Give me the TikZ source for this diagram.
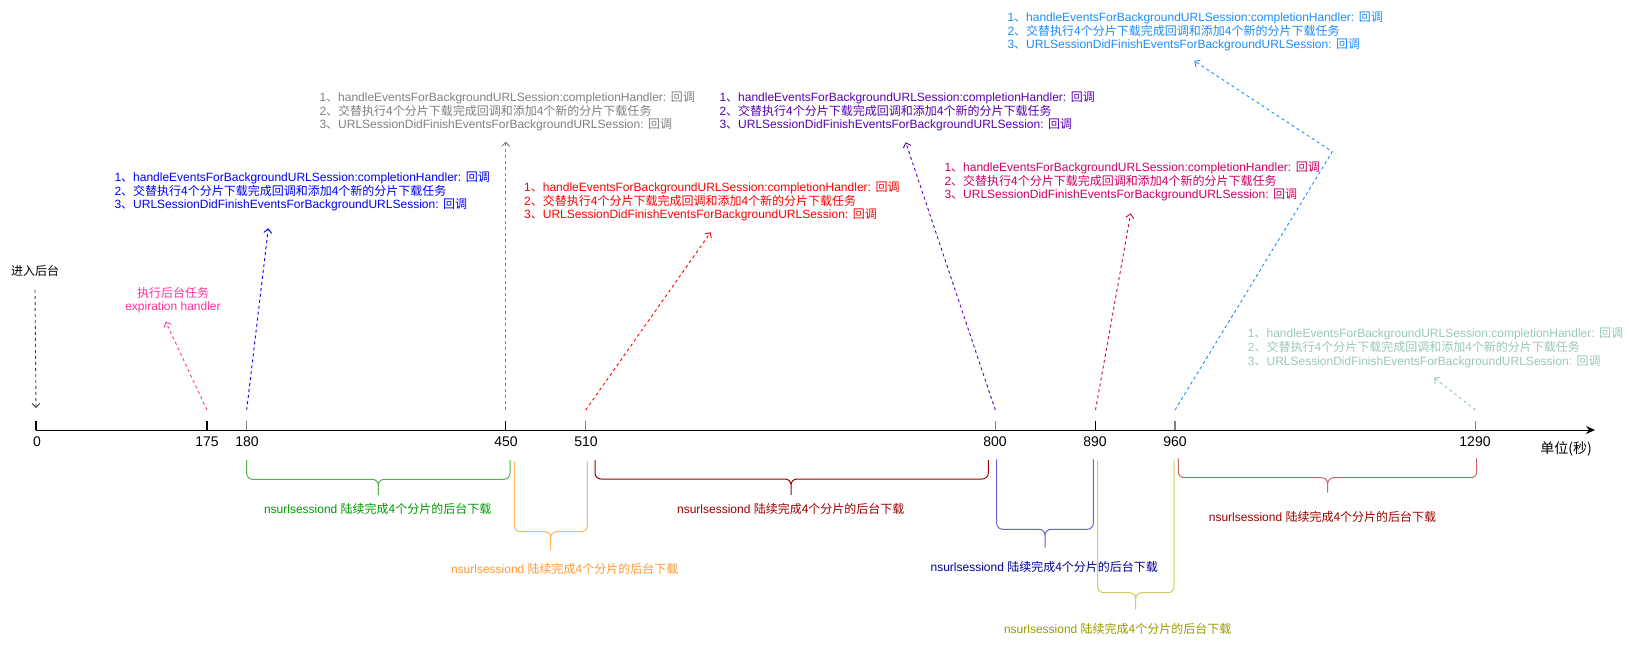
\documentclass[tikz,border=0pt]{standalone}
\usepackage{fontspec}
\setmainfont{Liberation Sans}
\newfontfamily\cjk{Noto Sans CJK SC}
\usetikzlibrary{arrows.meta, positioning, calc}
\definecolor{callblue}{HTML}{0000FF}
\definecolor{callgray}{HTML}{808080}
\definecolor{callred}{HTML}{FF0000}
\definecolor{callpurple}{HTML}{5900B3}
\definecolor{callcrimson}{HTML}{CC0066}
\definecolor{callsky}{HTML}{1A8CFF}
\definecolor{callteal}{HTML}{99C7BA}
\definecolor{expirepink}{HTML}{FF3399}
\definecolor{loadgreen}{HTML}{009900}
\definecolor{loadgreenborder}{HTML}{4DB34D}
\definecolor{loadorange}{HTML}{FF9933}
\definecolor{loadorangeborder}{HTML}{FFB366}
\definecolor{loaddarkred}{HTML}{990000}
\definecolor{loadredborder}{HTML}{CC6666}
\definecolor{loadnavy}{HTML}{000099}
\definecolor{loadnavyborder}{HTML}{6666CC}
\definecolor{loadolive}{HTML}{999900}
\definecolor{loadoliveborder}{HTML}{CCCC66}
\newcommand{\cbtext}{1{\cjk 、}handleEventsForBackgroundURLSession:completionHandler: {\cjk 回调}\\
  2{\cjk 、交替执行4个分片下载完成回调和添加4个新的分片下载任务}\\
  3{\cjk 、}URLSessionDidFinishEventsForBackgroundURLSession: {\cjk 回调}}
\newcommand{\dltext}{nsurlsessiond {\cjk 陆续完成4个分片的后台下载}}

\begin{document}
\begin{tikzpicture}[x=1pt, y=-1pt,
      cb/.style={anchor=north west, align=left, inner sep=0pt,
        font=\fontsize{12}{13.8}\selectfont},
      dl/.style={inner sep=0pt, font=\fontsize{12}{14}\selectfont},
      ticklabel/.style={inner sep=0pt, font=\fontsize{14}{16}\selectfont},
      tickmark/.style={line width=1.2pt},
      link/.style={dash pattern=on 3pt off 3pt, line width=0.9pt,
        -{Straight Barb[length=4pt,width=8pt]}},
      bracket/.style={rounded corners=6pt, line width=1pt},
      >=Latex
    ]
      \useasboundingbox (0,0) rectangle (1629,647);
      % time axis
      \coordinate (t0) at (36,430);
      \coordinate (t175) at (207,430);
      \coordinate (t180) at (246.7,430);
      \coordinate (t450) at (505.7,430);
      \coordinate (t510) at (585.7,430);
      \coordinate (t800) at (995.3,430);
      \coordinate (t890) at (1095.5,430);
      \coordinate (t960) at (1175,430);
      \coordinate (t1290) at (1475.5,430);
      \coordinate (tend) at (1595,430);
      \draw[line width=1pt, -{Stealth[length=9pt,width=8pt]}] (t0) -- (tend);
      \draw[tickmark] (t0) -- ++(0,-9);
      \draw[tickmark] (t175) -- ++(0,-9);
      \draw[tickmark, gray] (t180) -- ++(0,-9);
      \draw[tickmark] (t450) -- ++(0,-9);
      \draw[tickmark, gray] (t510) -- ++(0,-9);
      \draw[tickmark, gray] (t800) -- ++(0,-9);
      \draw[tickmark] (t890) -- ++(0,-9);
      \draw[tickmark, gray] (t960) -- ++(0,-9);
      \draw[tickmark, gray] (t1290) -- ++(0,-9);
      \node[ticklabel] (l0) at (37,442) {0};
      \node[ticklabel] (l175) at (207,442) {175};
      \node[ticklabel] (l180) at (247,442) {180};
      \node[ticklabel] (l450) at (506,442) {450};
      \node[ticklabel] (l510) at (586,442) {510};
      \node[ticklabel] (l800) at (995,442) {800};
      \node[ticklabel] (l890) at (1095,442) {890};
      \node[ticklabel] (l960) at (1175,442) {960};
      \node[ticklabel] (l1290) at (1475,442) {1290};
      \node[ticklabel] (unit) at (1566,449) {\cjk 单位(秒)};

      % entering background
      \node[dl] (enter) at (35,271) {\cjk 进入后台};
      \draw[link, black!75] ([yshift=-13pt]enter.south) -- ([yshift=22pt]t0);
      \node[dl, align=center, text=expirepink, font=\fontsize{12}{13}\selectfont]
        (expire) at (173,300.5) {{\cjk 执行后台任务}\\expiration handler};
      \coordinate (e175) at (165.7,321.7);
      \draw[link, expirepink] ([yshift=20pt]t175) -- (e175);

      % callbacks
      \node[cb, text=callblue] (cb180) at (114.3,171.2) {\cbtext};
      \node[cb, text=callgray] (cb450) at (319.3,91.2) {\cbtext};
      \node[cb, text=callred] (cb510) at (524,181.2) {\cbtext};
      \node[cb, text=callpurple] (cb800) at (719.3,91.2) {\cbtext};
      \node[cb, text=callcrimson] (cb890) at (944.3,161.2) {\cbtext};
      \node[cb, text=callsky] (cb960) at (1007.3,11.2) {\cbtext};
      \node[cb, text=callteal] (cb1290) at (1247.7,327.8) {\cbtext};
      \coordinate (e180) at (268.3,228.3);
      \coordinate (e450) at (505.7,141.7);
      \coordinate (e510) at (710.7,232.3);
      \coordinate (e800) at (905.7,142.3);
      \coordinate (e890) at (1130.7,213.3);
      \coordinate (b960) at (1332.3,151.7);
      \coordinate (e960) at (1194.3,61);
      \coordinate (e1290) at (1434,377.7);
      \draw[link, callblue] ([yshift=20pt]t180) -- (e180);
      \draw[link, callgray] ([yshift=20pt]t450) -- (e450);
      \draw[link, callred] ([yshift=20pt]t510) -- (e510);
      \draw[link, callpurple] ([yshift=20pt]t800) -- (e800);
      \draw[link, callcrimson] ([yshift=20pt]t890) -- (e890);
      \draw[link, callsky] ([yshift=20pt]t960) -- (b960) -- (e960);
      \draw[link, callteal] ([yshift=20pt]t1290) -- (e1290);

      % background downloads
      \draw[bracket, loadgreenborder]
        (246.7,460) -- (246.7,479.3) -- (378.3,479.3) -- (378.3,495)
        (510,460) -- (510,479.3) -- (378.3,479.3) -- (378.3,495);
      \node[dl, text=loadgreen] (dl180) at (377.7,509) {\dltext};
      \draw[bracket, loadorangeborder]
        (514.3,461.7) -- (514.3,531.7) -- (550.7,531.7) -- (550.7,550)
        (587.3,461.7) -- (587.3,531.7) -- (550.7,531.7) -- (550.7,550);
      \node[dl, text=loadorange] (dl450) at (564.7,569) {\dltext};
      \draw[bracket, loaddarkred]
        (595,460) -- (595,479) -- (791,479) -- (791,495)
        (988.3,460) -- (988.3,479) -- (791,479) -- (791,495);
      \node[dl, text=loaddarkred] (dl510) at (790.8,509) {\dltext};
      \draw[bracket, loadnavyborder]
        (996.7,459.3) -- (996.7,529.3) -- (1045,529.3) -- (1045,547.7)
        (1093.3,459.3) -- (1093.3,529.3) -- (1045,529.3) -- (1045,547.7);
      \node[dl, text=loadnavy] (dl800) at (1044.3,567) {\dltext};
      \draw[bracket, loadoliveborder]
        (1097.7,460.7) -- (1097.7,592.7) -- (1135.7,592.7) -- (1135.7,609.3)
        (1174,460.7) -- (1174,592.7) -- (1135.7,592.7) -- (1135.7,609.3);
      \node[dl, text=loadolive] (dl890) at (1117.7,629) {\dltext};
      \draw[bracket, loadredborder]
        (1178.3,458.3) -- (1178.3,477.7) -- (1327.7,477.7) -- (1327.7,492.7)
        (1476.7,458.3) -- (1476.7,477.7) -- (1327.7,477.7) -- (1327.7,492.7);
      \node[dl, text=loaddarkred] (dl960) at (1322.5,517) {\dltext};
    \end{tikzpicture}
\end{document}
